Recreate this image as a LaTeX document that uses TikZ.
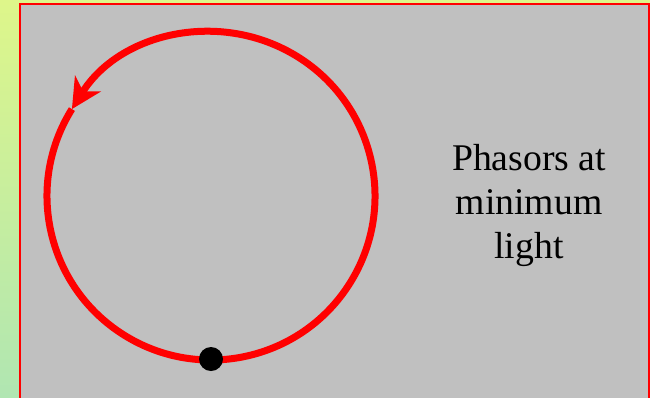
\documentclass[tikz,border=0pt]{standalone}
\usepackage{fontspec}
\setmainfont{Liberation Serif}
\usepackage{tikz}
\usetikzlibrary{arrows.meta, positioning}
\definecolor{Slide_Top}{RGB}{222,246,138}
\definecolor{Slide_Bottom}{RGB}{176,230,178}
\definecolor{Panel_Gray}{RGB}{192,192,192}

\begin{document}
\begin{tikzpicture}[
    x=1pt, y=1pt,
    panel/.style={draw=red, line width=1.5pt, fill=Panel_Gray},
    orbit/.style={draw=red, line width=7pt, -{Stealth[length=30pt, width=30pt, inset=9pt]}},
    phasor/.style={circle, fill=black, inner sep=0pt, minimum size=24pt},
    caption/.style={align=center, font=\fontsize{37.7}{44}\selectfont}
]

\useasboundingbox (0,0) rectangle (650,-397);
\shade[top color=Slide_Top, bottom color=Slide_Bottom] (0,0) rectangle (650,-397);
\clip (0,0) rectangle (650,-397);
\draw[panel] (20,-4) rectangle (649,-402);

% circle of phasors, run counter-clockwise
\coordinate (centre) at (211,-196);
\draw[orbit] (centre) ++(148:164) arc[start angle=148, end angle=508, radius=164];

\node[phasor] (start) at (211,-359) {};

\node[caption] (label) at (529,-205) {Phasors at\\minimum\\light};

\end{tikzpicture}
\end{document}
